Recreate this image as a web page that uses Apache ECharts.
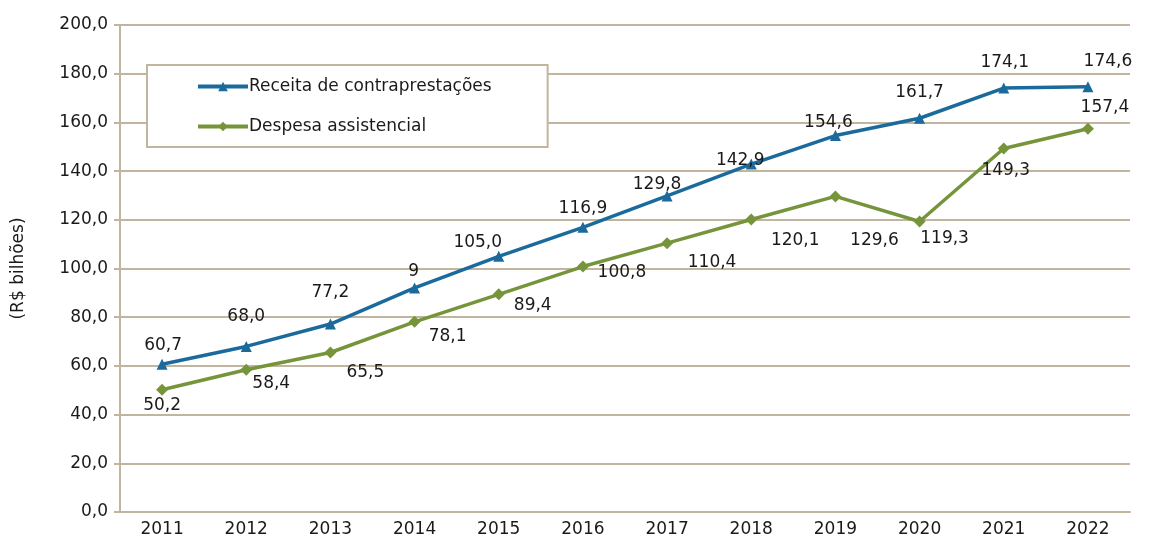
<!DOCTYPE html>
<html><head><meta charset="utf-8">
<script src="https://cdn.jsdelivr.net/npm/echarts@6/dist/echarts.min.js"></script>
<style>html,body{margin:0;padding:0;background:#fff}#c{width:1149px;height:542px}</style>
</head><body><div id="c"></div>
<script>
const categories = ['2011','2012','2013','2014','2015','2016','2017','2018','2019','2020','2021','2022'];
const receita = [60.7, 68.0, 77.2, 92.0, 105.0, 116.9, 129.8, 142.9, 154.6, 161.7, 174.1, 174.6];
const receitaLabels = ['60,7','68,0','77,2','9','105,0','116,9','129,8','142,9','154,6','161,7','174,1','174,6'];
const despesa = [50.2, 58.4, 65.5, 78.1, 89.4, 100.8, 110.4, 120.1, 129.6, 119.3, 149.3, 157.4];
const despesaLabels = ['50,2','58,4','65,5','78,1','89,4','100,8','110,4','120,1','129,6','119,3','149,3','157,4'];
const yTicks = [0, 20, 40, 60, 80, 100, 120, 140, 160, 180, 200];

// label offsets relative to point (styling)
const receitaOffsets = [[1,-19],[0,-30],[0,-31],[-1,-16],[-21,-14],[0,-19],[-10,-11],[-11,-3],[-7,-13],[0,-26],[1,-25],[20,-25]];
const despesaOffsets = [[0,16],[25,14],[35,20],[33,15],[34,11],[39,6],[45,19],[44,21],[39,44],[25,17],[2,22],[17,-21]];

const chart = echarts.init(document.getElementById('c'));
const gridColor = '#c2b59f';
const txt = '#1a1a1a';
const font = 'DejaVu Sans, Liberation Sans, Arial, sans-serif';
const fs = 17;

function mk(vals, labels, offs){
  return vals.map((v,i)=>({value:v, label:{formatter:labels[i], offset:offs[i]}}));
}

chart.setOption({
  animation:false,
  textStyle:{fontFamily:font},
  grid:{left:120, right:19, top:25, bottom:30},
  legend:{
    orient:'vertical', left:147, top:65,
    padding:[13,56,12,49],
    backgroundColor:'#fff', borderColor:gridColor, borderWidth:2,
    itemWidth:50, itemHeight:12, itemGap:23,
    lineStyle:{width:4},
    textStyle:{fontSize:fs, color:txt, fontFamily:font, padding:[0,0,0,-4]},
    data:['Receita de contraprestações','Despesa assistencial']
  },
  xAxis:{
    type:'category', data:categories, boundaryGap:true,
    axisLine:{lineStyle:{color:gridColor, width:2}},
    axisTick:{alignWithLabel:true, length:6, lineStyle:{color:gridColor, width:2}},
    axisLabel:{fontSize:fs, color:txt, margin:9, fontFamily:font},
    splitLine:{show:false}
  },
  yAxis:{
    type:'value', min:yTicks[0], max:yTicks[yTicks.length-1], interval:20,
    name:'(R$ bilhões)', nameLocation:'middle', nameGap:93, nameRotate:90,
    nameTextStyle:{fontSize:17, color:txt, fontFamily:font},
    axisLine:{show:true, lineStyle:{color:gridColor, width:2}},
    axisTick:{show:true, length:6, lineStyle:{color:gridColor, width:2}},
    axisLabel:{fontSize:fs, color:txt, margin:12, fontFamily:font,
      formatter:v=>v.toFixed(1).replace('.',',')},
    splitLine:{lineStyle:{color:gridColor, width:2}}
  },
  series:[
    {name:'Receita de contraprestações', type:'line', data:mk(receita, receitaLabels, receitaOffsets),
     symbol:'triangle', symbolSize:11, color:'#1b6a9c',
     lineStyle:{width:3.5, color:'#1b6a9c'}, itemStyle:{color:'#1b6a9c'},
     label:{show:true, position:'inside', fontSize:fs, color:txt, fontFamily:font}, z:3},
    {name:'Despesa assistencial', type:'line', data:mk(despesa, despesaLabels, despesaOffsets),
     symbol:'diamond', symbolSize:12, color:'#76953a',
     lineStyle:{width:3.5, color:'#76953a'}, itemStyle:{color:'#76953a'},
     label:{show:true, position:'inside', fontSize:fs, color:txt, fontFamily:font}, z:2}
  ]
});
</script></body></html>
